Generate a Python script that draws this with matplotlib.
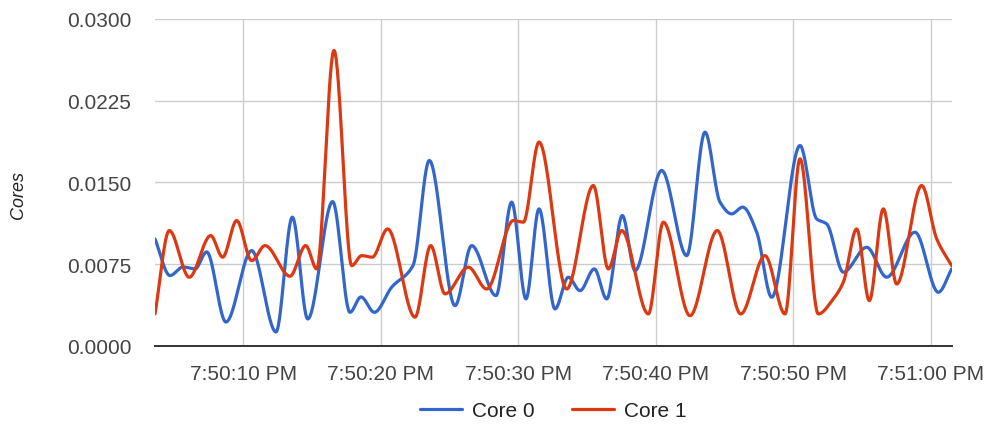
import numpy as np
import matplotlib
matplotlib.use("Agg")
import matplotlib.pyplot as plt
from matplotlib.ticker import FuncFormatter, FixedLocator

plt.rcParams["font.family"] = ["Liberation Sans", "DejaVu Sans"]

# ── Data (seconds after 7:50:00 PM, value in cores) ──────────────────────────
core0_t = [3.58, 4.67, 5.62, 6.49, 7.34, 8.74, 10.61, 12.38, 13.57, 14.69,
           16.50, 17.76, 18.56, 19.53, 20.79, 22.34, 23.53, 25.40, 26.61, 28.38,
           29.52, 30.56, 31.51, 32.67, 33.64, 34.49, 35.53, 36.43, 37.57, 38.49,
           40.43, 42.25, 43.58, 44.67, 45.52, 46.32, 47.34, 48.43, 50.49, 51.70,
           52.43, 53.64, 55.34, 56.79, 58.85, 60.55, 61.52]
core0_v = [0.00983, 0.00646, 0.00725, 0.00707, 0.00863, 0.00220, 0.00875, 0.00129, 0.01182, 0.00248,
           0.01325, 0.00309, 0.00450, 0.00309, 0.00539, 0.00737, 0.01702, 0.00370, 0.00921, 0.00462,
           0.01320, 0.00432, 0.01258, 0.00340, 0.00631, 0.00508, 0.00707, 0.00432, 0.01197, 0.00691,
           0.01610, 0.00829, 0.01962, 0.01320, 0.01212, 0.01274, 0.01044, 0.00447, 0.01839, 0.01166,
           0.01120, 0.00677, 0.00906, 0.00631, 0.01044, 0.00493, 0.00707]

core1_t = [3.58, 4.62, 6.07, 7.63, 8.50, 9.52, 10.61, 11.58, 13.40, 14.54,
           15.34, 16.60, 17.89, 18.61, 19.38, 20.50, 22.49, 23.63, 24.67, 26.37,
           27.70, 29.64, 30.37, 31.51, 33.52, 35.46, 36.55, 37.52, 39.46, 40.55,
           42.49, 44.47, 46.18, 47.94, 49.40, 50.49, 51.82, 52.91, 53.64, 54.61,
           55.53, 56.55, 57.52, 59.34, 60.43, 61.52]
core1_v = [0.00294, 0.01059, 0.00631, 0.01013, 0.00815, 0.01151, 0.00783, 0.00921, 0.00640, 0.00921,
           0.00707, 0.02712, 0.00737, 0.00829, 0.00815, 0.01074, 0.00264, 0.00921, 0.00478, 0.00723,
           0.00523, 0.01151, 0.01136, 0.01871, 0.00523, 0.01472, 0.00707, 0.01059, 0.00294, 0.01136,
           0.00278, 0.01059, 0.00294, 0.00829, 0.00294, 0.01717, 0.00294, 0.00432, 0.00585, 0.01074,
           0.00416, 0.01258, 0.00569, 0.01472, 0.00983, 0.00737]

series_names = ["Core 0", "Core 1"]
series_colors = ["#3366CC", "#DC3912"]

y_ticks = [0.0, 0.0075, 0.015, 0.0225, 0.03]
x_ticks = [10, 20, 30, 40, 50, 60]


def pchip(x, y, xn):
    """Monotone cubic interpolation, for the smooth curve look."""
    x = np.asarray(x, float)
    y = np.asarray(y, float)
    h = np.diff(x)
    d = np.diff(y) / h
    m = np.zeros_like(y)
    for k in range(1, len(x) - 1):
        if d[k - 1] * d[k] > 0:
            w1 = 2 * h[k] + h[k - 1]
            w2 = h[k] + 2 * h[k - 1]
            m[k] = (w1 + w2) / (w1 / d[k - 1] + w2 / d[k])
    m[0], m[-1] = d[0], d[-1]
    idx = np.clip(np.searchsorted(x, xn) - 1, 0, len(x) - 2)
    hk = h[idx]
    s = (xn - x[idx]) / hk
    h00 = 2 * s**3 - 3 * s**2 + 1
    h10 = s**3 - 2 * s**2 + s
    h01 = -2 * s**3 + 3 * s**2
    h11 = s**3 - s**2
    return h00 * y[idx] + h10 * hk * m[idx] + h01 * y[idx + 1] + h11 * hk * m[idx + 1]


def time_label(s, pos=None):
    s = int(round(s))
    return f"7:{50 + s // 60}:{s % 60:02d} PM"


fig = plt.figure(figsize=(9.91, 4.31), dpi=100)
ax = fig.add_axes([0.1564, 0.1949, 0.8042, 0.7587])

lines = []
for t, v, name, col in [(core0_t, core0_v, series_names[0], series_colors[0]),
                        (core1_t, core1_v, series_names[1], series_colors[1])]:
    tn = np.linspace(t[0], t[-1], 1500)
    ln, = ax.plot(tn, pchip(t, v, tn), color=col, lw=2.3, label=name,
                  solid_capstyle="round", zorder=3)
    lines.append(ln)

ax.set_xlim(3.58, 61.54)
ax.set_ylim(0, 0.03)
ax.yaxis.set_major_locator(FixedLocator(y_ticks))
ax.yaxis.set_major_formatter(FuncFormatter(lambda v, p: f"{v:.4f}"))
ax.xaxis.set_major_locator(FixedLocator(x_ticks))
ax.xaxis.set_major_formatter(FuncFormatter(time_label))

ax.grid(True, color="#CCCCCC", lw=1.0, zorder=0)
ax.set_axisbelow(True)
for side in ["top", "right", "left"]:
    ax.spines[side].set_visible(False)
ax.spines["bottom"].set_color("#333333")
ax.spines["bottom"].set_linewidth(1.4)
ax.spines["bottom"].set_zorder(4)
ax.tick_params(axis="both", length=0, labelsize=15, labelcolor="#444444")
ax.tick_params(axis="y", pad=17)
ax.tick_params(axis="x", pad=13)

fig.text(18 / 991, 1 - 195 / 431, "Cores", rotation=90, ha="center", va="center",
         fontsize=13, style="italic", color="#222222")

fig.legend(handles=lines, loc="center", bbox_to_anchor=(553.5 / 991, 1 - 412 / 431),
           ncol=2, frameon=False, fontsize=15, handlelength=2.0, columnspacing=1.8,
           handletextpad=0.5, labelcolor="#222222")

fig.savefig("out.png", dpi=100)
